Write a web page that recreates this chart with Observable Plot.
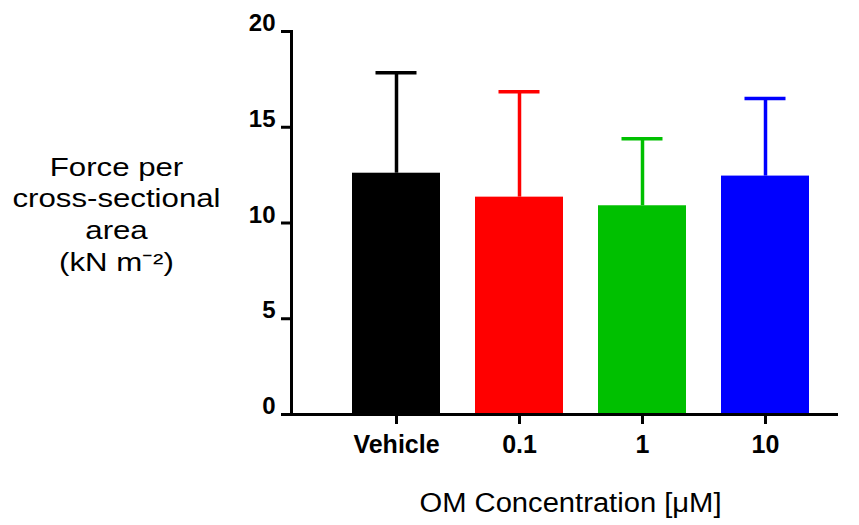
<!DOCTYPE html>
<html>
<head>
<meta charset="utf-8">
<script src="https://cdn.jsdelivr.net/npm/d3@7"></script>
<script src="https://cdn.jsdelivr.net/npm/@observablehq/plot@0.6"></script>
<style>
  body { margin: 0; background: #fff; }
  #chart svg { display: block; }
</style>
</head>
<body>
<div id="chart"></div>
<script>
// Force per cross-sectional area by OM concentration (mean + SD)
const groups = ["Vehicle", "0.1", "1", "10"];
const means = [12.6, 11.35, 10.9, 12.45];
const sds = [5.25, 5.5, 3.5, 4.05];
const colors = ["#000000", "#ff0000", "#00c000", "#0000ff"];
const yTicks = [0, 5, 10, 15, 20];
const xTitle = "OM Concentration [μM]";
const yTitle = "Force per\ncross-sectional\narea\n(kN m⁻²)";

const data = groups.map((g, i) => ({group: g, mean: means[i], upper: means[i] + sds[i]}));

const font = "'Liberation Sans', Arial, sans-serif";

const chart = Plot.plot({
  width: 859,
  height: 525,
  marginLeft: 291,
  marginRight: 21,
  marginTop: 31,
  marginBottom: 111,
  style: {fontFamily: font, color: "black", background: "white"},
  x: {domain: groups, range: [351, 809.5], paddingInner: 0.287, paddingOuter: 0, axis: null},
  y: {domain: [0, 20], axis: null},
  color: {domain: groups, range: colors},
  marks: [
    Plot.barY(data, {x: "group", y: "mean", fill: "group"}),
    Plot.ruleX(data, {x: "group", y1: "mean", y2: "upper", stroke: "group", strokeWidth: 3.5}),
    Plot.tickY(data, {x: "group", y: "upper", stroke: "group", strokeWidth: 3.5, insetLeft: 23.5, insetRight: 23.5}),
    Plot.frame({anchor: "left", strokeWidth: 3, stroke: "black"}),
    Plot.ruleY([0], {strokeWidth: 3, stroke: "black", insetLeft: -9.5}),
    // y tick marks
    Plot.axisY({ticks: yTicks, tickSize: 10, strokeWidth: 3, tickFormat: () => "", label: null}),
    // y tick labels, baseline resting on the tick
    Plot.axisY({ticks: yTicks, tickSize: 0, tickPadding: 16, fontSize: 24, fontWeight: "bold", dy: -8, label: null}),
    Plot.axisX({tickSize: 10, tickPadding: 11, strokeWidth: 3, fontSize: 25, fontWeight: "bold", label: null}),
    Plot.text([xTitle], {frameAnchor: "bottom", dx: 5.5, dy: 89, fontSize: 27, lineAnchor: "middle", fill: "black"}),
    Plot.text([yTitle], {frameAnchor: "left", dx: -175, dy: -10, fontSize: 26, textAnchor: "middle", lineAnchor: "middle", lineHeight: 1.22, fill: "black"})
  ]
});

document.getElementById("chart").appendChild(chart);

// Widen the two axis titles horizontally about their own centres
function stretch(el, s) {
  const b = el.getBBox();
  const cx = b.x + b.width / 2;
  const t = el.getAttribute("transform") || "";
  el.setAttribute("transform", `${t} translate(${cx},0) scale(${s},1) translate(${-cx},0)`);
}
const titles = chart.querySelectorAll('g[aria-label="text"] text');
if (titles[0]) stretch(titles[0], 1.08);
if (titles[1]) stretch(titles[1], 1.2);
</script>
</body>
</html>
